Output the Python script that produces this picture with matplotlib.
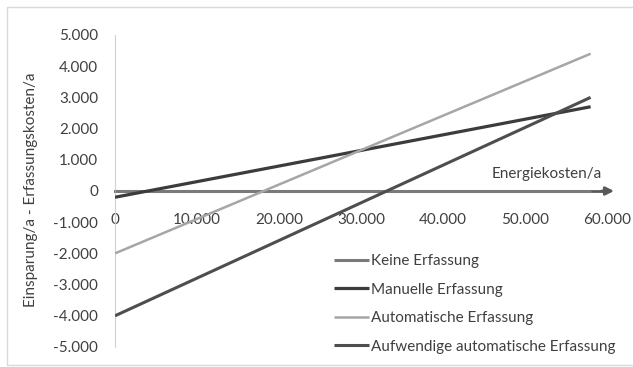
import matplotlib.pyplot as plt
from matplotlib.patches import Rectangle
from matplotlib.ticker import FuncFormatter

# Energiekosten/a (x) and Einsparung/a - Erfassungskosten/a (y)
energy = [0, 58000]
keine = [0, 0]
manuelle = [-200, 2700]
automatisch = [-2000, 4400]
aufwendig = [-4000, 3000]

labels = ['Keine Erfassung', 'Manuelle Erfassung',
          'Automatische Erfassung', 'Aufwendige automatische Erfassung']
colors = ['#7a7a7a', '#3c3c3c', '#a6a6a6', '#4e4e4e']
widths = [2.2, 2.3, 1.8, 2.2]

plt.rcParams['font.family'] = ['Lato', 'DejaVu Sans']
fs = 11

fig = plt.figure(figsize=(6.33, 3.67), dpi=100)
ax = fig.add_axes([115 / 633, 20 / 367, 492 / 633, 312 / 367])

# outer frame
fig.patches.append(Rectangle((7 / 633, 2 / 367), 1.2, 358 / 367, transform=fig.transFigure,
                             fill=False, edgecolor='#d9d9d9', linewidth=1.0))

series = [keine, manuelle, automatisch, aufwendig]
for vals, lab, c, w in zip(series, labels, colors, widths):
    ax.plot(energy, vals, color=c, linewidth=w, label=lab, solid_capstyle='butt', zorder=3)

ax.set_xlim(0, 60000)
ax.set_ylim(-5000, 5000)
ax.set_xticks(range(0, 60001, 10000))
ax.set_yticks(range(-5000, 5001, 1000))
fmt = FuncFormatter(lambda v, p: f'{int(v):,}'.replace(',', '.'))
ax.xaxis.set_major_formatter(fmt)
ax.yaxis.set_major_formatter(fmt)

for s in ['top', 'right']:
    ax.spines[s].set_visible(False)
ax.spines['left'].set_color('#d0d0d0')
ax.spines['bottom'].set_position(('data', 0))
ax.spines['bottom'].set_color('#595959')
ax.spines['bottom'].set_linewidth(2.0)
ax.spines['bottom'].set_zorder(2)
ax.annotate('', xy=(61200, 0), xytext=(59000, 0), xycoords='data',
            arrowprops=dict(arrowstyle='-|>', color='#595959', lw=2.0,
                            mutation_scale=12), annotation_clip=False)

ax.tick_params(axis='x', length=0, pad=16, labelsize=fs, labelcolor='#404040')
ax.tick_params(axis='y', length=0, pad=12, labelsize=fs, labelcolor='#404040')

ax.text(59400, 550, 'Energiekosten/a', ha='right', va='center', fontsize=fs, color='#404040')
fig.text(31 / 633, 1 - 190 / 367, 'Einsparung/a - Erfassungskosten/a', rotation=90,
         ha='center', va='center', fontsize=fs, color='#404040')

ax.legend(loc='upper left', bbox_to_anchor=(328 / 633, 1 - 248 / 367),
          bbox_transform=fig.transFigure, frameon=False, fontsize=fs,
          handlelength=2.3, handletextpad=0.1, labelspacing=0.95, borderaxespad=0,
          labelcolor='#404040')

fig.savefig('out.png', dpi=100)
